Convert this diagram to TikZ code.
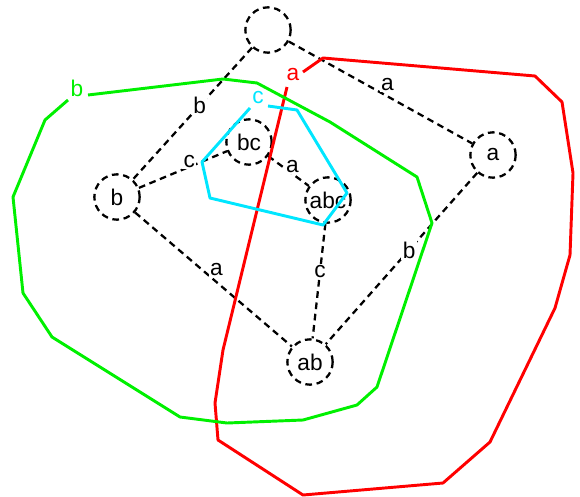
\documentclass[tikz,border=0pt]{standalone}
\usepackage{fontspec}
\setmainfont{Liberation Sans}
\definecolor{rega}{RGB}{255,0,0}
\definecolor{regb}{RGB}{0,240,0}
\definecolor{regc}{RGB}{0,230,255}
\begin{document}
\begin{tikzpicture}[x=0.75pt,y=-0.75pt,
    state/.style={circle, draw, line width=1.7pt, dash pattern=on 5pt off 3.5pt, minimum size=34pt, inner sep=0pt, font=\fontsize{17}{19}\selectfont},
    edge/.style={line width=1.7pt, dash pattern=on 5pt off 3.5pt},
    lbl/.style={fill=white, inner sep=1pt, font=\fontsize{17}{19}\selectfont},
    region/.style={line width=2.2pt, line join=round}]
\useasboundingbox (0,0) rectangle (580,496);
% States
\node[state] (n0)   at (268,30)  {};
\node[state] (na)   at (493,155) {a};
\node[state] (nb)   at (117,197) {b};
\node[state] (nbc)  at (249,142) {bc};
\node[state] (nabc) at (328,200) {abc};
\node[state] (nab)  at (310,362) {ab};
% Transitions with their letters
\foreach \u/\v/\p/\t/\dx/\dy in {n0/nb/.44/b/0/0, n0/na/.51/a/5/-9, nb/nbc/.57/c/0/-5,
    nbc/nabc/.52/a/3/-5, nb/nab/.48/a/6/-7, nabc/nab/.42/c/0/0, na/nab/.45/b/0/0} {
    \draw[edge] (\u) -- node[lbl, pos=\p, shift={(\dx,\dy)}] {\t} (\v);
}
% Regions
\node[lbl, fill=none, text=rega] (ra) at (293,75) {a};
\draw[region, rega] (303,72) -- (323,58) -- (535,76) -- (562,102) -- (573,173) -- (570,255)
    -- (555,308) -- (490,442) -- (443,483) -- (303,495) -- (218,440) -- (215,403) -- (223,350) -- (287,87);
\node[lbl, fill=none, text=regb] (rb) at (77,88) {b};
\draw[region, regb] (88,95) -- (223,79) -- (257,83) -- (330,122) -- (417,177) -- (432,223)
    -- (377,387) -- (357,405) -- (303,420) -- (227,423) -- (180,417) -- (52,337) -- (23,293)
    -- (13,197) -- (45,120) -- (68,100);
\node[lbl, fill=none, text=regc] (rc) at (258,98) {c};
\draw[region, regc] (268,106) -- (297,110) -- (347,193) -- (323,225) -- (210,198) -- (202,162) -- (250,108);
\end{tikzpicture}
\end{document}
